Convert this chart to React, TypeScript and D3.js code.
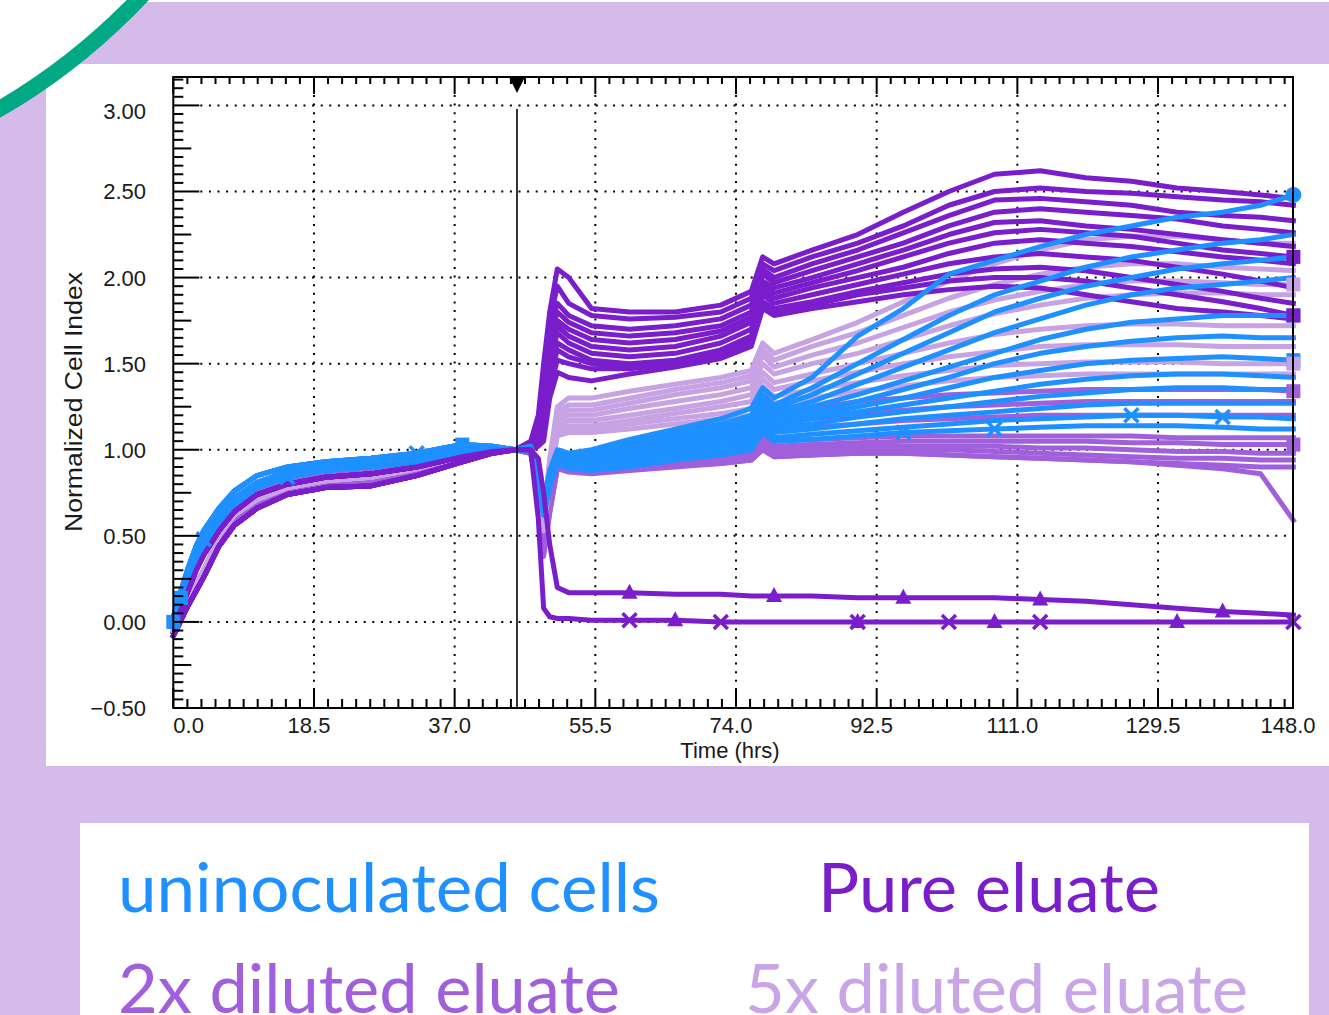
import React, { useEffect } from 'react'
import * as d3 from 'd3'

// time grid (hrs) shared by every well
const EARLY_TIMES = [0, 0.5, 1, 2, 3, 4, 6, 8, 11, 15, 20, 26, 32, 38, 42, 45]
const LATE_TIMES = [47, 48, 48.7, 49.5, 50.5, 52, 55, 60, 66, 72, 76, 77.5, 79, 84, 90, 96, 102, 108, 114, 120, 126, 132, 138, 143, 147.3]

// growth phase before the eluate was added
const BLUE_EARLY_A = [0.03, 0.1, 0.18, 0.32, 0.44, 0.53, 0.66, 0.76, 0.85, 0.9, 0.93, 0.95, 0.98, 1.03, 1.02, 1.0]
const BLUE_EARLY_B = [0.0, 0.07, 0.14, 0.27, 0.39, 0.48, 0.62, 0.72, 0.81, 0.87, 0.9, 0.92, 0.95, 1.0, 1.0, 1.0]
const BLUE_EARLY_C = [0.0, 0.05, 0.11, 0.23, 0.35, 0.44, 0.58, 0.68, 0.78, 0.84, 0.88, 0.9, 0.93, 0.98, 0.99, 1.0]
const PURE_EARLY_A = [-0.03, 0.01, 0.07, 0.19, 0.3, 0.39, 0.53, 0.64, 0.74, 0.8, 0.84, 0.86, 0.9, 0.96, 0.99, 1.0]
const PURE_EARLY_B = [-0.08, -0.04, 0.01, 0.1, 0.18, 0.26, 0.44, 0.56, 0.66, 0.74, 0.78, 0.79, 0.85, 0.93, 0.98, 1.0]
const DIL2_EARLY_A = [-0.02, 0.02, 0.08, 0.2, 0.31, 0.4, 0.55, 0.66, 0.76, 0.82, 0.86, 0.88, 0.92, 0.98, 1.0, 1.0]
const DIL2_EARLY_B = [-0.06, -0.02, 0.03, 0.13, 0.22, 0.3, 0.47, 0.59, 0.69, 0.76, 0.8, 0.82, 0.88, 0.95, 0.99, 1.0]
const DIL5_EARLY_A = [-0.01, 0.03, 0.1, 0.22, 0.33, 0.42, 0.57, 0.68, 0.78, 0.84, 0.88, 0.9, 0.94, 0.99, 1.0, 1.0]
const DIL5_EARLY_B = [-0.05, -0.01, 0.04, 0.14, 0.22, 0.3, 0.5, 0.62, 0.71, 0.78, 0.82, 0.84, 0.89, 0.96, 0.99, 1.0]

// after the eluate (values at LATE_TIMES)
const PURE_LATE = [
  [1.05, 1.2, 1.5, 1.8, 2.05, 2.0, 1.82, 1.8, 1.8, 1.84, 1.92, 2.12, 2.08, 2.16, 2.25, 2.38, 2.5, 2.6, 2.62, 2.58, 2.56, 2.52, 2.5, 2.48, 2.46],
  [1.04, 1.15, 1.45, 1.75, 1.95, 1.85, 1.78, 1.76, 1.77, 1.8, 1.88, 2.08, 2.04, 2.12, 2.2, 2.3, 2.42, 2.5, 2.52, 2.5, 2.49, 2.47, 2.45, 2.44, 2.42],
  [1.03, 1.1, 1.4, 1.7, 1.85, 1.78, 1.72, 1.7, 1.72, 1.76, 1.84, 2.05, 2.0, 2.08, 2.16, 2.26, 2.36, 2.45, 2.46, 2.44, 2.42, 2.38, 2.36, 2.35, 2.33],
  [1.03, 1.1, 1.35, 1.65, 1.8, 1.74, 1.68, 1.66, 1.68, 1.72, 1.8, 2.02, 1.97, 2.04, 2.12, 2.2, 2.3, 2.38, 2.4, 2.38, 2.36, 2.34, 2.3, 2.28, 2.26],
  [1.02, 1.08, 1.3, 1.6, 1.75, 1.7, 1.64, 1.62, 1.64, 1.69, 1.77, 1.98, 1.94, 2.0, 2.08, 2.16, 2.25, 2.32, 2.33, 2.3, 2.28, 2.25, 2.22, 2.2, 2.18],
  [1.02, 1.07, 1.25, 1.55, 1.72, 1.66, 1.6, 1.58, 1.6, 1.66, 1.74, 1.96, 1.91, 1.97, 2.04, 2.12, 2.2, 2.26, 2.28, 2.26, 2.24, 2.2, 2.16, 2.14, 2.12],
  [1.02, 1.06, 1.2, 1.5, 1.68, 1.62, 1.56, 1.54, 1.56, 1.62, 1.7, 1.93, 1.88, 1.94, 2.0, 2.06, 2.14, 2.2, 2.22, 2.2, 2.18, 2.15, 2.12, 2.1, 2.08],
  [1.01, 1.05, 1.15, 1.45, 1.62, 1.58, 1.52, 1.5, 1.52, 1.58, 1.66, 1.9, 1.85, 1.9, 1.96, 2.02, 2.08, 2.12, 2.14, 2.12, 2.1, 2.06, 2.02, 1.98, 1.94],
  [1.01, 1.04, 1.1, 1.4, 1.58, 1.54, 1.5, 1.48, 1.5, 1.56, 1.64, 1.86, 1.82, 1.86, 1.92, 1.97, 2.02, 2.05, 2.06, 2.04, 2.0, 1.96, 1.92, 1.88, 1.85],
  [1.0, 1.03, 1.08, 1.35, 1.52, 1.5, 1.47, 1.47, 1.5, 1.55, 1.63, 1.84, 1.8, 1.84, 1.9, 1.94, 1.98, 2.0, 2.0, 1.98, 1.94, 1.9, 1.86, 1.82, 1.78],
  [1.0, 1.02, 1.05, 1.3, 1.45, 1.42, 1.4, 1.44, 1.48, 1.53, 1.6, 1.82, 1.78, 1.82, 1.86, 1.9, 1.93, 1.95, 1.94, 1.9, 1.86, 1.82, 1.8, 1.78, 1.76],
]
const DEAD_LATE = [
  [1.0, 0.95, 0.75, 0.45, 0.2, 0.17, 0.17, 0.17, 0.16, 0.16, 0.15, 0.15, 0.15, 0.15, 0.14, 0.14, 0.14, 0.14, 0.13, 0.12, 0.1, 0.08, 0.06, 0.05, 0.04],
  [1.0, 0.6, 0.08, 0.03, 0.02, 0.02, 0.01, 0.01, 0.01, 0.0, 0.0, 0.0, 0.0, 0.0, 0.0, 0.0, 0.0, 0.0, 0.0, 0.0, 0.0, 0.0, 0.0, 0.0, 0.0],
]
const BLUE_LATE = [
  [1.02, 0.88, 0.7, 0.88, 1.0, 0.98, 1.0, 1.06, 1.12, 1.18, 1.24, 1.36, 1.3, 1.42, 1.66, 1.82, 2.02, 2.1, 2.18, 2.25, 2.3, 2.35, 2.38, 2.42, 2.48],
  [1.02, 0.86, 0.68, 0.86, 0.98, 0.96, 0.98, 1.04, 1.1, 1.15, 1.2, 1.32, 1.26, 1.36, 1.5, 1.64, 1.78, 1.9, 1.98, 2.06, 2.12, 2.16, 2.2, 2.22, 2.25],
  [1.01, 0.85, 0.66, 0.84, 0.97, 0.95, 0.96, 1.02, 1.08, 1.13, 1.18, 1.3, 1.24, 1.32, 1.44, 1.56, 1.68, 1.8, 1.88, 1.95, 2.0, 2.05, 2.08, 2.1, 2.12],
  [1.01, 0.85, 0.66, 0.84, 0.96, 0.94, 0.95, 1.0, 1.06, 1.11, 1.16, 1.28, 1.22, 1.28, 1.38, 1.48, 1.58, 1.68, 1.76, 1.84, 1.9, 1.94, 1.96, 1.98, 2.0],
  [1.01, 0.84, 0.65, 0.83, 0.96, 0.93, 0.94, 0.99, 1.04, 1.09, 1.14, 1.26, 1.2, 1.25, 1.32, 1.4, 1.48, 1.56, 1.64, 1.7, 1.74, 1.76, 1.78, 1.78, 1.78],
  [1.0, 0.84, 0.65, 0.82, 0.95, 0.93, 0.93, 0.98, 1.03, 1.08, 1.12, 1.24, 1.18, 1.22, 1.28, 1.35, 1.42, 1.5, 1.56, 1.6, 1.63, 1.65, 1.66, 1.65, 1.65],
  [1.0, 0.83, 0.64, 0.82, 0.95, 0.92, 0.92, 0.96, 1.01, 1.06, 1.1, 1.22, 1.16, 1.2, 1.25, 1.3, 1.36, 1.42, 1.46, 1.5, 1.52, 1.53, 1.54, 1.53, 1.52],
  [1.0, 0.83, 0.64, 0.81, 0.94, 0.92, 0.92, 0.95, 1.0, 1.05, 1.08, 1.2, 1.14, 1.18, 1.22, 1.26, 1.3, 1.34, 1.38, 1.41, 1.43, 1.44, 1.44, 1.43, 1.42],
  [1.0, 0.82, 0.63, 0.8, 0.94, 0.91, 0.91, 0.94, 0.99, 1.03, 1.06, 1.18, 1.12, 1.15, 1.19, 1.22, 1.25, 1.28, 1.31, 1.33, 1.35, 1.36, 1.36, 1.35, 1.35],
  [0.99, 0.82, 0.63, 0.8, 0.93, 0.9, 0.9, 0.93, 0.97, 1.01, 1.04, 1.15, 1.1, 1.12, 1.15, 1.18, 1.2, 1.22, 1.24, 1.26, 1.27, 1.27, 1.27, 1.27, 1.27],
  [0.99, 0.81, 0.62, 0.79, 0.93, 0.9, 0.89, 0.92, 0.96, 0.99, 1.02, 1.12, 1.07, 1.09, 1.11, 1.13, 1.15, 1.17, 1.18, 1.19, 1.2, 1.2, 1.19, 1.19, 1.18],
  [0.99, 0.8, 0.62, 0.78, 0.92, 0.89, 0.88, 0.9, 0.94, 0.97, 1.0, 1.1, 1.05, 1.06, 1.08, 1.1, 1.11, 1.12, 1.13, 1.14, 1.14, 1.14, 1.13, 1.12, 1.12],
]
const DIL2_LATE = [
  [1.0, 0.8, 0.48, 0.72, 0.94, 0.94, 0.96, 1.02, 1.08, 1.12, 1.16, 1.26, 1.2, 1.24, 1.28, 1.3, 1.32, 1.33, 1.34, 1.35, 1.35, 1.35, 1.35, 1.35, 1.34],
  [1.0, 0.8, 0.46, 0.7, 0.93, 0.93, 0.95, 1.0, 1.05, 1.09, 1.12, 1.22, 1.16, 1.18, 1.21, 1.23, 1.25, 1.26, 1.27, 1.28, 1.28, 1.28, 1.28, 1.28, 1.28],
  [0.99, 0.78, 0.45, 0.68, 0.92, 0.92, 0.93, 0.98, 1.02, 1.05, 1.08, 1.17, 1.11, 1.13, 1.15, 1.17, 1.18, 1.19, 1.2, 1.2, 1.2, 1.2, 1.2, 1.2, 1.2],
  [0.99, 0.78, 0.44, 0.68, 0.92, 0.91, 0.91, 0.95, 0.98, 1.0, 1.02, 1.1, 1.05, 1.06, 1.07, 1.08, 1.08, 1.08, 1.08, 1.08, 1.08, 1.07, 1.07, 1.07, 1.07],
  [0.99, 0.77, 0.43, 0.66, 0.91, 0.9, 0.9, 0.93, 0.96, 0.98, 1.0, 1.07, 1.02, 1.03, 1.04, 1.05, 1.05, 1.05, 1.05, 1.05, 1.04, 1.04, 1.03, 1.03, 1.03],
  [0.98, 0.77, 0.42, 0.66, 0.9, 0.89, 0.89, 0.92, 0.94, 0.96, 0.98, 1.05, 1.0, 1.01, 1.02, 1.02, 1.02, 1.02, 1.01, 1.01, 1.0, 0.99, 0.99, 0.98, 0.98],
  [0.98, 0.76, 0.4, 0.65, 0.9, 0.88, 0.88, 0.9, 0.92, 0.94, 0.96, 1.03, 0.98, 0.99, 1.0, 1.0, 1.0, 0.99, 0.98, 0.97, 0.96, 0.95, 0.95, 0.94, 0.94],
  [0.98, 0.76, 0.4, 0.64, 0.89, 0.88, 0.87, 0.89, 0.91, 0.92, 0.94, 1.0, 0.96, 0.97, 0.98, 0.98, 0.97, 0.96, 0.95, 0.94, 0.93, 0.92, 0.91, 0.9, 0.9],
  [0.98, 0.75, 0.38, 0.63, 0.89, 0.87, 0.86, 0.88, 0.9, 0.92, 0.94, 1.0, 0.96, 0.97, 0.98, 0.98, 0.97, 0.96, 0.95, 0.94, 0.93, 0.91, 0.89, 0.86, 0.59],
]
const DIL5_LATE = [
  [1.02, 0.88, 0.6, 0.95, 1.25, 1.3, 1.3, 1.34, 1.38, 1.42, 1.46, 1.62, 1.56, 1.64, 1.74, 1.86, 1.98, 2.08, 2.16, 2.22, 2.24, 2.24, 2.22, 2.2, 2.2],
  [1.02, 0.87, 0.58, 0.93, 1.22, 1.26, 1.26, 1.3, 1.35, 1.39, 1.43, 1.58, 1.52, 1.6, 1.68, 1.78, 1.88, 1.96, 2.02, 2.06, 2.08, 2.08, 2.06, 2.05, 2.04],
  [1.01, 0.87, 0.57, 0.92, 1.2, 1.23, 1.23, 1.27, 1.32, 1.36, 1.4, 1.55, 1.48, 1.55, 1.62, 1.71, 1.8, 1.87, 1.92, 1.96, 1.98, 1.98, 1.97, 1.96, 1.96],
  [1.01, 0.86, 0.56, 0.9, 1.17, 1.2, 1.2, 1.24, 1.28, 1.32, 1.36, 1.5, 1.44, 1.5, 1.56, 1.64, 1.72, 1.79, 1.84, 1.88, 1.9, 1.91, 1.91, 1.9, 1.9],
  [1.01, 0.86, 0.55, 0.88, 1.14, 1.17, 1.17, 1.2, 1.24, 1.28, 1.32, 1.45, 1.39, 1.44, 1.5, 1.56, 1.62, 1.67, 1.7, 1.72, 1.73, 1.73, 1.72, 1.72, 1.72],
  [1.0, 0.85, 0.55, 0.86, 1.12, 1.14, 1.14, 1.17, 1.21, 1.25, 1.28, 1.41, 1.35, 1.4, 1.45, 1.5, 1.54, 1.57, 1.6, 1.61, 1.61, 1.61, 1.6, 1.6, 1.6],
  [1.0, 0.85, 0.54, 0.84, 1.1, 1.12, 1.12, 1.15, 1.18, 1.21, 1.24, 1.37, 1.31, 1.35, 1.39, 1.43, 1.46, 1.49, 1.5, 1.51, 1.51, 1.51, 1.5, 1.5, 1.5],
  [1.0, 0.84, 0.53, 0.82, 1.08, 1.1, 1.1, 1.12, 1.15, 1.18, 1.2, 1.33, 1.27, 1.3, 1.34, 1.37, 1.4, 1.42, 1.43, 1.44, 1.44, 1.44, 1.44, 1.44, 1.44],
]

const X_TICKS = [0, 18.5, 37, 55.5, 74, 92.5, 111, 129.5, 148]
const Y_TICKS = [-0.5, 0, 0.5, 1, 1.5, 2, 2.5, 3]
const CURSOR_T = 45.2

// markers drawn on some wells: [series id, time, shape]
const MARKERS: [string, number, string][] = [
  ['dead0', 60, 'tri'], ['dead0', 79, 'tri'], ['dead0', 96, 'tri'], ['dead0', 114, 'tri'], ['dead0', 138, 'tri'],
  ['dead1', 60, 'x'], ['dead1', 72, 'x'], ['dead1', 90, 'x'], ['dead1', 102, 'x'], ['dead1', 114, 'x'], ['dead1', 147.3, 'x'],
  ['dead1', 66, 'tri'], ['dead1', 90, 'tri'], ['dead1', 108, 'tri'], ['dead1', 132, 'tri'],
  ['blue4', 0, 'sq'], ['blue7', 1, 'sq'], ['blue0', 38, 'sq'], ['blue1', 4, 'x'], ['blue11', 15, 'x'], ['blue0', 32, 'x'],
  ['blue11', 96, 'x'], ['blue11', 108, 'x'], ['blue10', 126, 'x'], ['blue10', 138, 'x'],
  ['blue0', 147.3, 'circle'], ['blue4', 147.3, 'sq'], ['blue6', 147.3, 'sq'],
  ['pure5', 147.3, 'sq'], ['pure9', 147.3, 'sq'], ['dil2_0', 147.3, 'sq'], ['dil2_4', 147.3, 'sq'],
  ['dil5_2', 147.3, 'sq'], ['dil5_6', 147.3, 'sq'],
]

const LEGEND = [
  { label: 'uninoculated cells', color: '#1E90FF', x: 118, y: 912, w: 542 },
  { label: 'Pure eluate', color: '#7A1DCB', x: 818, y: 912, w: 342 },
  { label: '2x diluted eluate', color: '#A060DC', x: 118, y: 1013, w: 502 },
  { label: '5x diluted eluate', color: '#C9A4E6', x: 745, y: 1013, w: 503 },
]

const GROUPS = [
  { key: 'dil2_', color: '#A060DC', early: [DIL2_EARLY_A, DIL2_EARLY_B], late: DIL2_LATE },
  { key: 'dil5_', color: '#C8A3E4', early: [DIL5_EARLY_A, DIL5_EARLY_B], late: DIL5_LATE },
  { key: 'pure', color: '#7A1DCB', early: [PURE_EARLY_A, PURE_EARLY_B], late: PURE_LATE },
  { key: 'blue', color: '#1E90FF', early: [BLUE_EARLY_A, BLUE_EARLY_B, BLUE_EARLY_C], late: BLUE_LATE },
  { key: 'dead', color: '#7A1DCB', early: [PURE_EARLY_A, PURE_EARLY_B], late: DEAD_LATE },
]

const TIMES = EARLY_TIMES.concat(LATE_TIMES)

const App = () => {
  useEffect(() => {
    document.body.style.margin = '0'
    document.body.style.overflow = 'hidden'
  }, [])

  const x = d3.scaleLinear().domain([0, 147.25]).range([173.3, 1293])
  const y = d3.scaleLinear().domain([-0.5, 3.165]).range([708, 77])
  const [x0, x1] = x.range()
  const [y0, y1] = y.range()
  const line = d3
    .line<number>()
    .x((d, i) => x(TIMES[i]))
    .y((d) => y(d))

  const series = GROUPS.flatMap((g) =>
    g.late.map((late, i) => ({
      id: g.key + i,
      color: g.color,
      values: g.early[i % g.early.length].concat(late),
    }))
  )
  const byId = new Map(series.map((s) => [s.id, s]))

  const xMinor = d3.range(0, 147.3, 1.85)
  const yMinor = d3.range(-0.5, 3.17, 0.05)
  const fmtY = d3.format('.2f')
  const fmtX = d3.format('.1f')

  const marker = (shape: string, cx: number, cy: number, color: string, key: string) => {
    if (shape === 'sq')
      return <rect key={key} x={cx - 7} y={cy - 7} width={14} height={14} fill={color} />
    if (shape === 'circle') return <circle key={key} cx={cx} cy={cy} r={8} fill={color} />
    if (shape === 'tri')
      return <path key={key} d={`M${cx},${cy - 9}L${cx + 8},${cy + 6}L${cx - 8},${cy + 6}Z`} fill={color} />
    return (
      <path
        key={key}
        d={`M${cx - 7},${cy - 7}L${cx + 7},${cy + 7}M${cx + 7},${cy - 7}L${cx - 7},${cy + 7}`}
        stroke={color}
        strokeWidth={3.5}
      />
    )
  }

  return (
    <svg width={1329} height={1015} style={{ position: 'absolute', left: 0, top: 0, display: 'block' }}>
      <rect width={1329} height={1015} fill='#D4BBEA' />
      <rect width={1329} height={2} fill='#fff' />
      <circle cx={-320} cy={-440} r={635} fill='#fff' />
      <rect x={46} y={64} width={1283} height={702} fill='#fff' />
      <rect x={80} y={823} width={1229} height={200} fill='#fff' />
      <circle cx={-320} cy={-440} r={635} fill='none' stroke='#00A884' strokeWidth={16} />

      {/* grid */}
      <g stroke='#000' strokeWidth={2} strokeDasharray='2 6.6'>
        {X_TICKS.filter((t) => t > 0 && t < 147).map((t) => (
          <line key={'gx' + t} x1={x(t)} x2={x(t)} y1={y1 + 18} y2={y0 - 20} />
        ))}
        {Y_TICKS.filter((v) => v > -0.5).map((v) => (
          <line key={'gy' + v} x1={x0 + 27} x2={x1} y1={y(v)} y2={y(v)} />
        ))}
      </g>

      {/* wells */}
      <g fill='none' strokeWidth={5} strokeLinejoin='round' strokeLinecap='square'>
        {series.map((s) => (
          <path key={s.id} d={line(s.values) || ''} stroke={s.color} />
        ))}
      </g>
      <g>
        {MARKERS.map(([id, t, shape], i) => {
          const s = byId.get(id)
          if (!s) return null
          const k = TIMES.indexOf(t)
          return marker(shape, x(t), y(s.values[k]), s.color, 'm' + i)
        })}
      </g>

      {/* cursor line at compound addition */}
      <line x1={x(CURSOR_T)} x2={x(CURSOR_T)} y1={109} y2={y0} stroke='#000' strokeWidth={1.6} />
      <path
        d={`M${x(CURSOR_T) - 8},${y1}L${x(CURSOR_T) + 8},${y1}L${x(CURSOR_T)},${y1 + 16}Z`}
        fill='#000'
      />

      {/* axes ticks */}
      <g stroke='#000' strokeWidth={2}>
        {xMinor.map((t, i) => (
          <g key={'tx' + i}>
            <line x1={x(t)} x2={x(t)} y1={y0} y2={y0 - (i % 10 === 0 ? 20 : 9)} />
            <line x1={x(t)} x2={x(t)} y1={y1} y2={y1 + (i % 10 === 0 ? 17 : 7)} />
          </g>
        ))}
        {yMinor.map((v, i) => (
          <line
            key={'ty' + i}
            x1={x0}
            x2={x0 + (i % 10 === 0 ? 26 : i % 5 === 0 ? 18 : 10)}
            y1={y(v)}
            y2={y(v)}
          />
        ))}
      </g>
      <rect x={x0} y={y1} width={x1 - x0} height={y0 - y1} fill='none' stroke='#000' strokeWidth={2} />

      {/* labels */}
      <g fontFamily='"Liberation Sans", Arial, sans-serif' fontSize={22} fill='#1a1a1a'>
        {Y_TICKS.map((v) => (
          <text key={'ly' + v} x={146} y={Math.max(y(v) + 8, 119)} textAnchor='end'>
            {fmtY(v)}
          </text>
        ))}
        {X_TICKS.map((t, i) => (
          <text
            key={'lx' + t}
            x={i === 0 ? x0 : Math.min(x(t), x1) - 5}
            y={733}
            textAnchor={i === 0 ? 'start' : 'middle'}
          >
            {fmtX(t)}
          </text>
        ))}
        <text x={730} y={758} textAnchor='middle'>
          Time (hrs)
        </text>
        <text
          transform='translate(82,402) rotate(-90)'
          textAnchor='middle'
          fontSize={23}
          textLength={260}
          lengthAdjust='spacingAndGlyphs'
        >
          Normalized Cell Index
        </text>
      </g>

      {/* legend */}
      <g fontFamily='Lato, "Open Sans", sans-serif' fontSize={68}>
        {LEGEND.map((d) => (
          <text key={d.label} x={d.x} y={d.y} fill={d.color} textLength={d.w} lengthAdjust='spacingAndGlyphs'>
            {d.label}
          </text>
        ))}
      </g>
    </svg>
  )
}

export default App
